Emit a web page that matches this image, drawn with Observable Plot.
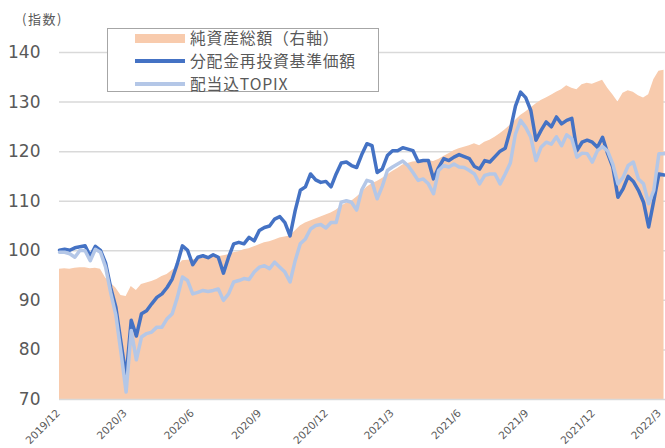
<!DOCTYPE html>
<html><head><meta charset="utf-8">
<script src="https://cdn.jsdelivr.net/npm/d3@7"></script>
<script src="https://cdn.jsdelivr.net/npm/@observablehq/plot@0.6"></script>
<style>
body{margin:0;background:#fff;}
#wrap{position:relative;width:665px;height:448px;font-family:"Noto Sans CJK JP",sans-serif;}
#ylab{position:absolute;left:22px;top:12px;font-size:13px;line-height:13px;letter-spacing:1.5px;color:#595959;white-space:nowrap;}
#legend{position:absolute;left:107px;top:28px;width:272px;height:64px;border:1px solid #a6a6a6;background:#fff;box-sizing:border-box;}
.item{position:absolute;left:27px;height:20px;display:flex;align-items:center;font-size:15.8px;letter-spacing:0.8px;line-height:20px;color:#595959;white-space:nowrap;}
.sw{width:50px;margin-right:5px;}
</style></head>
<body>
<div id="wrap">
<div id="chart"></div>
<div id="ylab">(指数)</div>
<div id="legend"></div>
</div>
<script>
// weekly observations starting 2019-12-30
const startDate = "2019-12-30";
const seriesNames = ["純資産総額（右軸）", "分配金再投資基準価額", "配当込TOPIX"];
const fundNav = [100.1,100.3,100.1,100.6,100.8,101.0,98.9,100.9,100.1,97.5,
92.5,88.6,81.5,74.5,86.0,82.8,87.3,87.9,89.3,90.6,
91.3,92.6,94.3,97.4,101.0,100.1,97.2,98.7,99.0,98.6,
99.2,98.7,95.5,98.7,101.4,101.7,101.4,102.7,102.0,104.1,
104.7,105.0,106.4,106.9,105.7,103.0,108.1,112.2,112.9,115.5,
114.3,113.8,114.0,112.9,115.5,117.7,117.9,117.2,116.8,119.4,
121.6,121.2,115.8,116.5,119.2,120.2,120.2,120.8,120.5,120.2,
118.0,118.2,118.2,114.5,116.8,118.6,118.2,118.9,119.4,119.0,
118.6,117.0,116.5,118.2,117.9,119.0,120.1,120.7,124.4,129.2,
132.0,130.9,128.3,122.3,124.3,126.0,125.0,127.0,125.6,126.3,
126.7,120.2,121.9,122.3,121.9,120.9,122.9,119.6,116.9,110.8,
112.5,115.0,114.0,112.2,109.8,104.8,110.1,115.5,115.3];
const topix = [99.7,99.7,99.4,98.7,100.1,100.0,98.0,100.3,99.7,96.7,
91.5,87.0,79.5,71.5,83.9,78.0,82.6,83.3,83.6,84.6,
84.6,86.3,87.3,90.6,94.7,94.0,91.3,91.6,92.0,91.8,
92.0,92.3,90.0,91.3,93.7,94.0,94.4,94.2,95.7,96.7,
97.0,96.4,97.7,96.7,95.7,93.7,98.0,101.4,102.4,104.4,
105.1,105.3,104.6,105.7,105.7,109.8,110.1,109.8,108.2,112.3,
114.2,113.9,110.5,113.0,116.2,116.9,117.5,118.1,117.2,115.8,
114.2,114.5,113.5,111.5,116.2,117.2,116.9,117.5,116.9,116.8,
116.2,115.5,113.5,115.2,115.5,115.5,113.5,115.5,117.7,123.6,
126.3,124.9,122.9,118.2,120.9,121.9,121.5,123.0,121.2,123.4,
122.6,118.9,119.7,119.6,117.9,120.2,121.0,120.1,117.5,113.5,
114.8,117.2,117.9,114.5,113.5,109.5,112.2,119.6,119.6];
// net assets, drawn in left-axis equivalent units (right axis not shown)
const netAssets = [96.3,96.4,96.3,96.5,96.6,96.6,96.4,96.5,96.3,94.5,
93.5,92.5,91.0,90.8,92.8,92.0,93.2,93.5,93.8,94.2,
94.8,95.2,96.0,96.8,98.0,98.1,98.2,98.3,98.5,98.7,
98.9,98.8,99.0,99.2,99.6,99.8,100.2,100.4,100.8,101.2,
101.6,101.8,102.2,102.6,102.8,103.0,104.0,105.0,105.6,106.0,
106.4,106.8,107.2,107.6,108.2,109.0,109.6,110.0,110.8,111.7,
112.8,113.5,114.0,114.6,115.3,116.0,116.6,117.3,117.6,117.9,
118.0,118.2,118.2,118.0,118.4,119.0,119.6,120.2,120.6,120.9,
121.2,121.6,121.2,121.9,122.3,122.9,123.6,124.4,125.3,126.3,
127.3,128.0,128.8,129.6,130.3,130.8,131.4,132.0,132.5,133.3,
132.8,132.5,133.5,133.8,133.6,134.0,134.4,132.8,131.5,130.0,
131.8,132.3,132.0,131.3,130.8,131.5,134.5,136.2,136.4];
const yTicks = [70,80,90,100,110,120,130,140];
const xTickDates = ["2019-12-30","2020-03-30","2020-06-30","2020-09-30","2020-12-30","2021-03-30","2021-06-30","2021-09-30","2021-12-30","2022-03-30"];
const xTickLabels = ["2019/12","2020/3","2020/6","2020/9","2020/12","2021/3","2021/6","2021/9","2021/12","2022/3"];
const colors = {assets:"#F8CBAD", fund:"#4472C4", topix:"#B4C7E7"};

const start = new Date(startDate + "T00:00:00Z");
const rows = fundNav.map((v, i) => ({
  date: d3.utcDay.offset(start, 7 * i),
  fund: v, topix: topix[i], assets: netAssets[i]
}));
const ticks = xTickDates.map((s, i) => ({date: new Date(s + "T00:00:00Z"), label: xTickLabels[i]}));

const chart = Plot.plot({
  width: 665, height: 448,
  marginLeft: 59, marginRight: 0, marginTop: 52, marginBottom: 49,
  style: {fontFamily: "DejaVu Sans, sans-serif", color: "#595959", background: "#fff", overflow: "visible"},
  x: {type: "utc", domain: [start, new Date("2022-04-06T00:00:00Z")], axis: null},
  y: {domain: [70, 140]},
  marks: [
    Plot.gridY(yTicks.slice(1), {stroke: "#d9d9d9", strokeOpacity: 1, strokeWidth: 1.5}),
    Plot.areaY(rows, {x: "date", y1: 70, y2: "assets", fill: colors.assets}),
    Plot.ruleY([70], {stroke: "#d9d9d9", strokeWidth: 1.5}),
    Plot.lineY(rows, {x: "date", y: "fund", stroke: colors.fund, strokeWidth: 3.5, strokeLinejoin: "round"}),
    Plot.lineY(rows, {x: "date", y: "topix", stroke: colors.topix, strokeWidth: 3.5, strokeLinejoin: "round"}),
    Plot.axisY(yTicks, {tickSize: 0, tickPadding: 19, fontSize: 17, label: null}),
    Plot.text(ticks, {x: "date", text: "label", frameAnchor: "bottom", dy: 9, dx: -4, rotate: -45,
      textAnchor: "end", lineAnchor: "top", fontSize: 10.5, fill: "#595959"})
  ]
});
document.getElementById("chart").appendChild(chart);

const legend = document.getElementById("legend");
const swatches = [
  `<div class="sw" style="height:9px;background:${colors.assets}"></div>`,
  `<div class="sw" style="height:3.5px;background:${colors.fund}"></div>`,
  `<div class="sw" style="height:3.5px;background:${colors.topix}"></div>`
];
seriesNames.forEach((name, i) => {
  const el = document.createElement("div");
  el.className = "item";
  el.style.top = (-1 + i * 23) + "px";
  el.innerHTML = swatches[i] + `<span>${name}</span>`;
  legend.appendChild(el);
});
</script>
</body></html>
